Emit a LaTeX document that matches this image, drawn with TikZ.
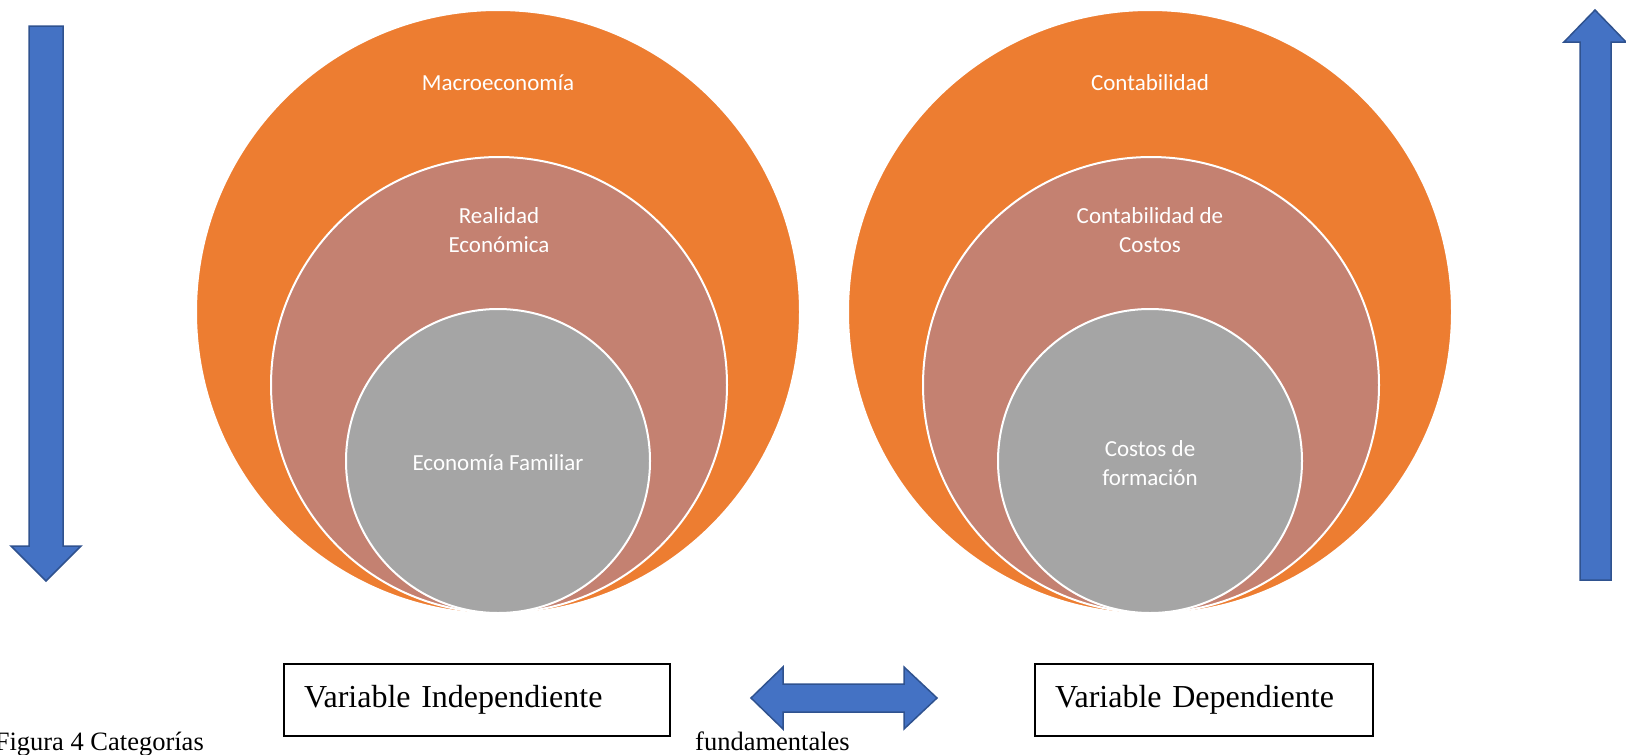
\documentclass[tikz,border=0pt]{standalone}
\usepackage{fontspec}
\setmainfont{Liberation Serif}
\newfontfamily\carlito{Carlito}
\usetikzlibrary{positioning}
\definecolor{ringorange}{RGB}{237,125,49}
\definecolor{ringrose}{RGB}{196,129,113}
\definecolor{ringgray}{RGB}{165,165,165}
\definecolor{arrowblue}{RGB}{68,114,196}
\definecolor{arrowedge}{RGB}{47,82,143}
\tikzset{
  ring/.style={circle, draw=white, line width=2pt, inner sep=0pt},
  ringtext/.style={text=white, font=\carlito\fontsize{23}{29}\selectfont, align=center, inner sep=0pt},
  varbox/.style={draw, line width=1.6pt, minimum height=72pt, inner xsep=20pt, align=left,
    font=\fontsize{32}{38}\selectfont},
  bigarrow/.style={fill=arrowblue, draw=arrowedge, line width=1.5pt, line join=miter},
  captext/.style={inner sep=0pt, font=\fontsize{26.5}{32}\selectfont},
}
\begin{document}
\begin{tikzpicture}[x=1pt,y=-1pt]
\useasboundingbox (0,0) rectangle (1626,755);
% left target
\node[ring, fill=ringorange, minimum size=604pt] (macro) at (498,312){};
\node[ring, fill=ringrose, minimum size=456pt] (realidad) at (499,385){};
\node[ring, fill=ringgray, minimum size=304pt] (familiar) at (498,461){};
\node[ringtext] (tmacro) at (498,83){Macroeconomía};
\node[ringtext] (trealidad) at (499,230){Realidad\\Económica};
\node[ringtext] (tfamiliar) at (498,463){Economía Familiar};
% right target
\node[ring, fill=ringorange, minimum size=604pt] (conta) at (1150,312){};
\node[ring, fill=ringrose, minimum size=456pt] (costos) at (1151,385){};
\node[ring, fill=ringgray, minimum size=304pt] (formacion) at (1150,461){};
\node[ringtext] (tconta) at (1150,83){Contabilidad};
\node[ringtext] (tcostos) at (1150,230){Contabilidad de\\Costos};
\node[ringtext] (tformacion) at (1150,463){Costos de\\formación};
% side arrows
\draw[bigarrow] (29,26) -- (63,26) -- (63,546) -- (81,546) -- (46,581) -- (11,546) -- (29,546) -- cycle;
\draw[bigarrow] (1580,580) -- (1611,580) -- (1611,42) -- (1626,42) -- (1595,10) -- (1564,42) -- (1580,42) -- cycle;
% variables
\node[varbox, text width=346pt] (indep) at (477,700){Variable Independiente};
\node[varbox, text width=298pt] (dep) at (1204,700){Variable Dependiente};
\draw[bigarrow] (751,698) -- (783,667) -- (783,684) -- (904,684) -- (904,667) -- (937,698)
  -- (904,729) -- (904,712) -- (783,712) -- (783,729) -- cycle;
% caption
\node[captext, anchor=base east] (cap1) at (204,750){Figura 4 Categorías};
\node[captext, anchor=base west] (cap2) at (695,750){fundamentales};
\end{tikzpicture}
\end{document}
